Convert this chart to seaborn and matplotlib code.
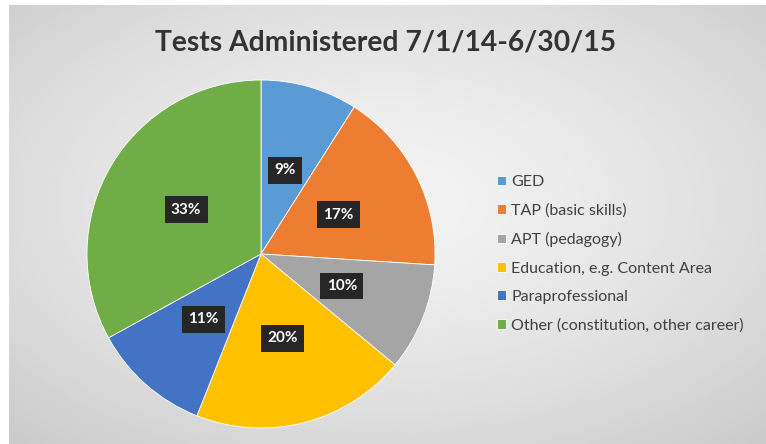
import numpy as np
import matplotlib
matplotlib.use("Agg")
import matplotlib.pyplot as plt
import seaborn as sns

categories = ["GED", "TAP (basic skills)", "APT (pedagogy)",
              "Education, e.g. Content Area", "Paraprofessional",
              "Other (constitution, other career)"]
percents = [9, 17, 10, 20, 11, 33]
colors = ["#5B9BD5", "#ED7D31", "#A5A5A5", "#FFC000", "#4472C4", "#70AD47"]
title = "Tests Administered 7/1/14-6/30/15"

sns.set_style("white")
plt.rcParams["font.family"] = ["Lato", "DejaVu Sans"]

W, H = 766, 444
fig = plt.figure(figsize=(W / 100, H / 100), dpi=100)
fig.patch.set_facecolor("white")

# gray panel with soft radial gradient
bg = fig.add_axes([9 / W, 0, (W - 9) / W, (H - 5) / H])
yy, xx = np.mgrid[0:1:200j, 0:1:300j]
d = np.sqrt(((xx - 0.5) / 0.75) ** 2 + ((yy - 0.45) / 0.75) ** 2)
shade = 0.95 - 0.16 * np.clip(d, 0, 1) ** 1.5
bg.imshow(shade, cmap="gray", vmin=0, vmax=1, aspect="auto", extent=[0, 1, 0, 1])
bg.set_axis_off()

cx, cy, r = 261, 254, 174
ax = fig.add_axes([(cx - r) / W, (H - cy - r) / H, 2 * r / W, 2 * r / H])
wedges, _ = ax.pie(percents, colors=sns.color_palette(colors), startangle=90,
                   counterclock=False,
                   wedgeprops=dict(linewidth=0.6, edgecolor="white"))
ax.set_xlim(-1, 1)
ax.set_ylim(-1, 1)
ax.set_aspect("equal")

total = sum(percents)
for w, p in zip(wedges, percents):
    mid = np.deg2rad((w.theta1 + w.theta2) / 2)
    ax.text(0.5 * np.cos(mid), 0.5 * np.sin(mid), f"{round(100 * p / total)}%",
            ha="center", va="center", color="white", fontsize=11,
            fontweight="bold",
            bbox=dict(boxstyle="square,pad=0.42", fc="#262626", ec="none"))

fig.text(386 / W, 1 - 42 / H, title, ha="center", va="center",
         fontsize=20.3, fontweight="bold", color="#333333")

leg = fig.legend(wedges, categories, loc="upper left",
                 bbox_to_anchor=(497 / W, 1 - 175 / H), frameon=False,
                 fontsize=11.5, labelspacing=0.9, handlelength=0.55,
                 handleheight=0.55, handletextpad=0.35, borderpad=0,
                 borderaxespad=0)
for t in leg.get_texts():
    t.set_color("#404040")

fig.savefig("out.png", dpi=100)
